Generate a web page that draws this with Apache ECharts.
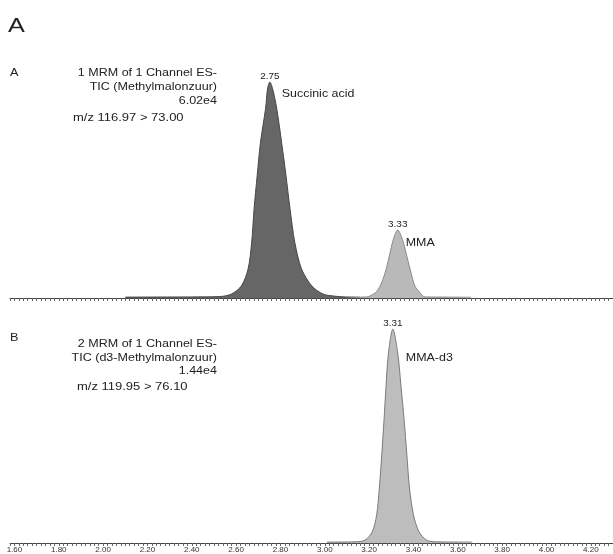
<!DOCTYPE html>
<html>
<head>
<meta charset="utf-8">
<script src="https://cdn.jsdelivr.net/npm/echarts@6/dist/echarts.min.js"></script>
<style>
html,body{margin:0;padding:0;background:#fff;}
#c{width:613px;height:554px;}
</style>
</head>
<body>
<div id="c"></div>
<script>
// ---- Data (retention time in min, intensity in counts) ----
var tickLabels = [1.60,1.80,2.00,2.20,2.40,2.60,2.80,3.00,3.20,3.40,3.60,3.80,4.00,4.20];

var succinicTime = [2.10,2.40,2.526,2.579,2.624,2.654,2.670,2.681,2.695,2.710,2.733,2.742,2.752,2.764,2.783,2.805,2.825,2.843,2.865,2.895,2.941,2.992,3.046,3.091,3.16];
var succinicInt  = [250,300,400,1100,3400,8100,15400,24900,34100,43400,52900,58450,60200,58450,52900,43400,34100,24900,15400,8100,3400,1100,500,300,250];

var mmaTime = [3.16,3.189,3.227,3.249,3.272,3.291,3.309,3.329,3.350,3.370,3.389,3.407,3.430,3.452,3.55,3.66];
var mmaInt  = [250,300,1400,3270,7000,11680,16320,18950,16320,11680,7000,3270,1400,300,250,200];

var d3Time = [3.01,3.136,3.181,3.214,3.234,3.246,3.257,3.267,3.276,3.287,3.307,3.329,3.344,3.358,3.370,3.382,3.400,3.425,3.460,3.498,3.665];
var d3Int  = [60,80,190,750,1890,3700,5960,8240,10500,12770,14400,12770,10500,8240,5960,3700,1890,750,190,80,60];

var peakNames = ['Succinic acid','MMA','MMA-d3'];
var peakRT = ['2.75','3.33','3.31'];
var panelMax = [60200, 14400];

// ---- helpers ----
function pairs(t, v){ return t.map(function(x,i){ return [x, v[i]]; }); }
function apex(t, v){ var m = 0; for (var i=1;i<v.length;i++) if (v[i] > v[m]) m = i; return [t[m], v[m]]; }

var FONT = '"Liberation Sans", Arial, sans-serif';
var TXT = '#222';

function xAxis(gi, showLabels){
  return {
    type:'value', gridIndex:gi, min:1.58, max:4.30, interval:0.02,
    axisLine:{show:true, lineStyle:{color:'#444', width:1}},
    axisTick:{show:true, interval:0, length:3, lineStyle:{color:'#666', width:1}},
    splitLine:{show:false},
    axisLabel:{
      show:showLabels, interval:0, hideOverlap:false, customValues:tickLabels,
      fontSize:8, color:'#333', margin:3, fontFamily:FONT,
      formatter:function(v){
        for (var i=0;i<tickLabels.length;i++) if (Math.abs(v-tickLabels[i])<1e-6) return tickLabels[i].toFixed(2);
        return '';
      }
    }
  };
}
function yAxis(gi, max){
  return {type:'value', gridIndex:gi, min:0, max:max, show:false, splitLine:{show:false}};
}
function peakSeries(name, t, v, xi, fill, stroke){
  return {
    name:name, type:'line', xAxisIndex:xi, yAxisIndex:xi,
    data:pairs(t, v), symbol:'none', smooth:0.3,
    lineStyle:{color:stroke, width:1},
    areaStyle:{color:fill, opacity:1},
    z:3, silent:true
  };
}

var chart = echarts.init(document.getElementById('c'), null, {renderer:'canvas'});
chart.setOption({
  animation:false,
  backgroundColor:'#fff',
  grid:[
    {left:10, right:0, top:82, bottom:256},
    {left:10, right:0, top:329, bottom:11}
  ],
  xAxis:[xAxis(0,false), xAxis(1,true)],
  yAxis:[yAxis(0,panelMax[0]), yAxis(1,panelMax[1])],
  series:[
    peakSeries('succinic', succinicTime, succinicInt, 0, '#666666', '#474747'),
    peakSeries('mma', mmaTime, mmaInt, 0, '#b9b9b9', '#8a8a8a'),
    peakSeries('mmad3', d3Time, d3Int, 1, '#bdbdbd', '#7a7a7a')
  ]
});

function txt(x, y, s, fs, sx, align, lh){
  var st = {text:s, fontSize:fs, fill:TXT, fontFamily:FONT, align:align||'left'};
  if (lh) st.lineHeight = lh;
  return {type:'text', x:x, y:y, scaleX:sx, style:st, silent:true};
}

// peak annotations placed through the axes' scales
var apexes = [
  {g:0, p:apex(succinicTime, succinicInt), nameDx:12, nameDy:6},
  {g:0, p:apex(mmaTime, mmaInt), nameDx:8, nameDy:7},
  {g:1, p:apex(d3Time, d3Int), nameDx:13, nameDy:23}
];
var g = [
  txt(8, 16, 'A', 21, 1.2),
  txt(10, 67, 'A', 11.5, 1.1),
  txt(217, 66, '1 MRM of 1 Channel ES-\nTIC (Methylmalonzuur)\n6.02e4', 11.6, 1.08, 'right', 14),
  txt(73, 112, 'm/z 116.97 > 73.00', 11.6, 1.12),
  txt(10, 332, 'B', 11.5, 1.1),
  txt(217, 337, '2 MRM of 1 Channel ES-\nTIC (d3-Methylmalonzuur)\n1.44e4', 11.6, 1.08, 'right', 13.7),
  txt(77, 381, 'm/z 119.95 > 76.10', 11.6, 1.12)
];
apexes.forEach(function(a, i){
  var px = chart.convertToPixel({gridIndex:a.g}, a.p);
  g.push(txt(px[0], px[1] - 10, peakRT[i], 8.5, 1.17, 'center'));
  g.push(txt(px[0] + a.nameDx, px[1] + a.nameDy, peakNames[i], 11.3, 1.1));
});
chart.setOption({graphic:g});
</script>
</body>
</html>
